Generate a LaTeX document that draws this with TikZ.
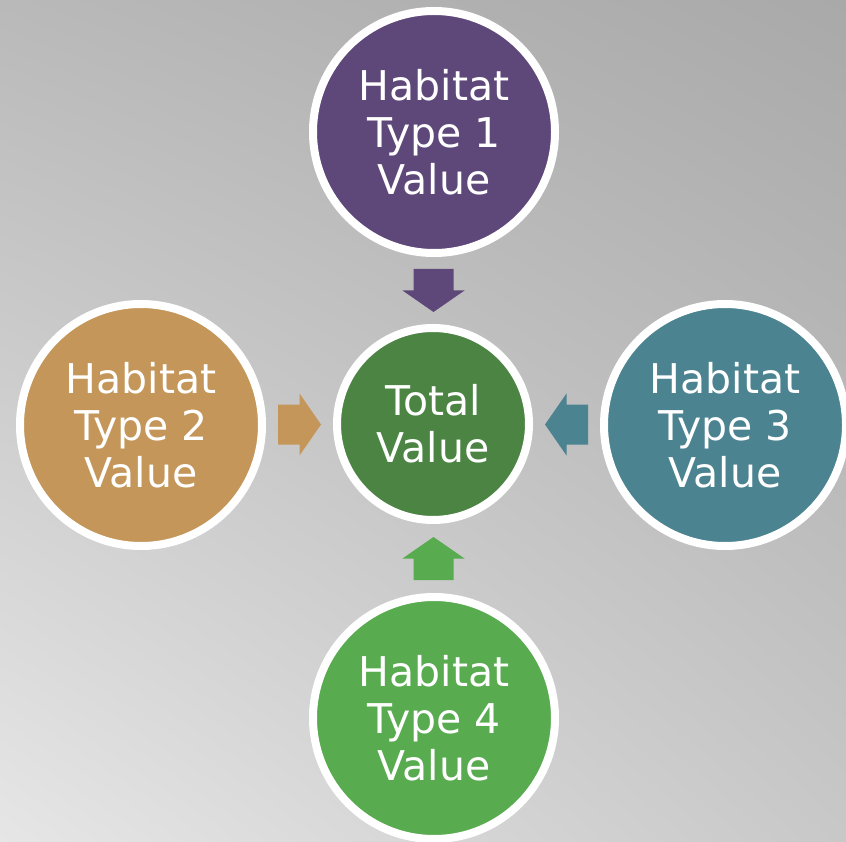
\documentclass[tikz,border=0pt]{standalone}
\usepackage{fontspec}
\setmainfont{DejaVu Sans}
\usetikzlibrary{calc}

% soft grey backdrop: light at lower left, darker towards upper right
% (the filled path is mapped onto the middle 50bp of the shading square)
\pgfdeclarefunctionalshading{backdrop}{\pgfpoint{-50bp}{-50bp}}{\pgfpoint{50bp}{50bp}}{}{
  25 add 50 div exch 25 add 50 div exch
  2 copy mul 14 mul 3 1 roll
  45 mul exch 30 mul add neg 230 add add 255 div dup dup
}

\definecolor{habpurple}{HTML}{5E487A}
\definecolor{habtan}{HTML}{C4965A}
\definecolor{habteal}{HTML}{4B8391}
\definecolor{habgreen}{HTML}{58AB4F}
\definecolor{totgreen}{HTML}{4B8443}

\tikzset{
  bubble/.style={circle, draw=white, line width=8pt, inner sep=0pt,
    text=white, align=center, font=\fontsize{41}{47}\selectfont},
  habitat/.style={bubble, minimum size=242pt},
  total/.style={bubble, minimum size=192pt, fill=totgreen},
  blockarrow/.pic={
    \fill (-21.5,-20) -- (0,-20) -- (0,-31) -- (21.5,0) -- (0,31)
          -- (0,20) -- (-21.5,20) -- cycle;
  }
}

\begin{document}
\begin{tikzpicture}[x=1pt,y=1pt]
  \useasboundingbox (0,0) rectangle (846,-842);
  \shade[shading=backdrop] (0,0) rectangle (846,-842);

  \node[habitat, fill=habpurple] (h1) at (434,-132) {Habitat\\Type 1\\Value};
  \node[habitat, fill=habtan]    (h2) at (141,-425) {Habitat\\Type 2\\Value};
  \node[total]                   (tv) at (433,-424) {Total\\Value};
  \node[habitat, fill=habteal]   (h3) at (725,-425) {Habitat\\Type 3\\Value};
  \node[habitat, fill=habgreen]  (h4) at (434,-718) {Habitat\\Type 4\\Value};

  % block arrows feeding into the total
  \pic[habpurple, rotate=-90] at ($(h1.south)!0.5!(tv.north)$) {blockarrow};
  \pic[habtan]                at ($(h2.east)!0.5!(tv.west)$)   {blockarrow};
  \pic[habteal, rotate=180]   at ($(h3.west)!0.5!(tv.east)$)   {blockarrow};
  \pic[habgreen, rotate=90]   at ($(h4.north)!0.5!(tv.south)$) {blockarrow};
\end{tikzpicture}
\end{document}
